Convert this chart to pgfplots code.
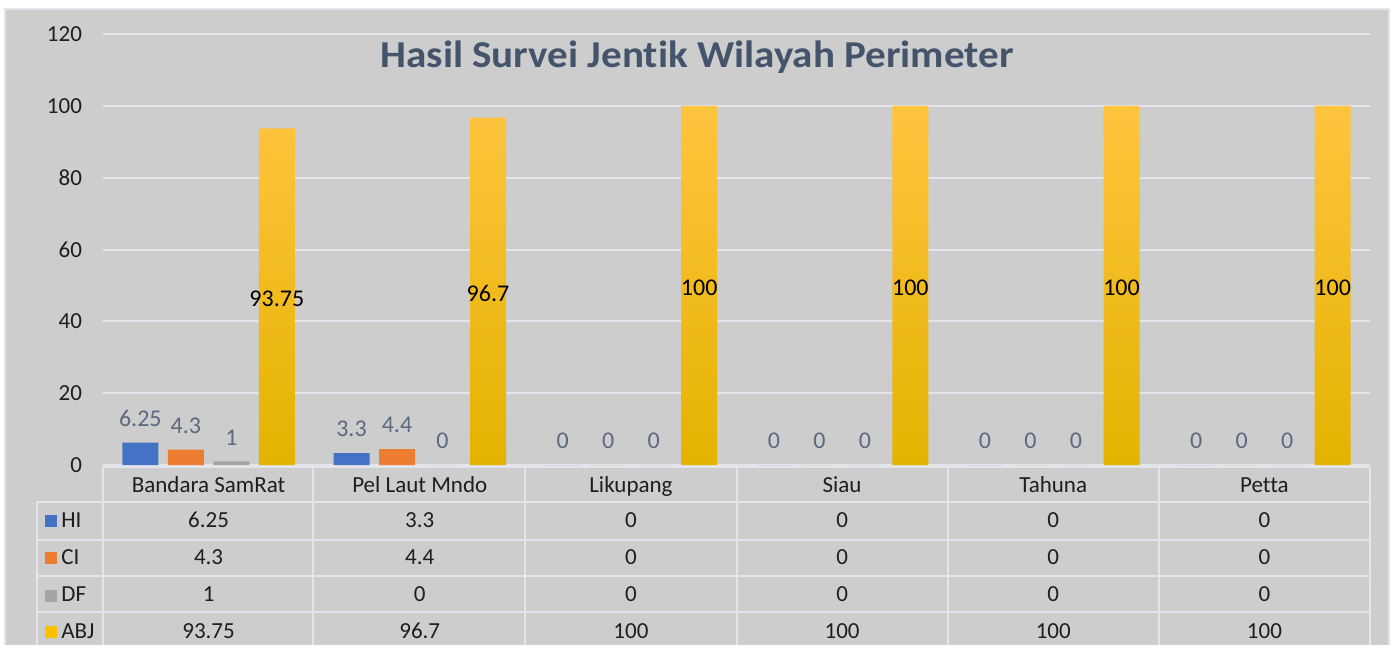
\documentclass[border=0pt]{standalone}
\usepackage{pgfplots}
\pgfplotsset{compat=1.18}
\usepackage{fontspec}
\setmainfont{Carlito}[Ligatures=NoCommon]
\definecolor{panel}{HTML}{CDCDCD}
\definecolor{gridc}{HTML}{E3E5EA}
\definecolor{hi}{HTML}{4472C4}
\definecolor{ci}{HTML}{ED7D31}
\definecolor{df}{HTML}{A5A5A5}
\definecolor{abj}{HTML}{FFC000}
\definecolor{abjtop}{HTML}{FFC43F}
\definecolor{abjbot}{HTML}{E4B300}
\definecolor{lab}{HTML}{5B6A7E}
\definecolor{titlec}{HTML}{44546A}
\definecolor{txt}{HTML}{1E1E1E}
\begin{document}
\begin{tikzpicture}[x=0.5pt,y=0.5pt]
\useasboundingbox (0,0) rectangle (1395,645);
\fill[white] (0,0) rectangle (1395,645);
\fill[panel] (5,0) rectangle (1389,636);
\draw[gridc, line width=1pt] (5,0) -- (5,636) -- (1389,636) -- (1389,0);
\begin{axis}[
  at={(51.5pt,90pt)}, anchor=south west, scale only axis,
  width=633.5pt, height=215.5pt,
  xmin=0, xmax=6, ymin=0, ymax=120,
  ybar=4.75pt, bar width=18pt,
  axis line style={draw=none},
  major tick length=0pt,
  ytick={0,20,...,120},
  ymajorgrids, grid style={gridc, line width=1pt},
  xtick={0.5,1.5,2.5,3.5,4.5,5.5},
  xticklabels={Bandara SamRat, Pel Laut Mndo, Likupang, Siau, Tahuna, Petta},
  xticklabel style={anchor=base, yshift=-13.5pt},
  yticklabel style={xshift=-7pt},
  tick label style={font=\fontsize{11.5}{13}\selectfont, text=txt},
  /pgf/number format/assume math mode=true,
  nodes near coords,
  every node near coord/.append style={font=\fontsize{12}{14}\selectfont},
  small/.style={draw=none, nodes near coords style={text=lab, anchor=south, yshift=4.5pt}},
  clip=false,
]
\addplot[small, fill=hi] coordinates {(0.5,6.25) (1.5,3.3) (2.5,0) (3.5,0) (4.5,0) (5.5,0)};
\addplot[small, fill=ci] coordinates {(0.5,4.3) (1.5,4.4) (2.5,0) (3.5,0) (4.5,0) (5.5,0)};
\addplot[small, fill=df] coordinates {(0.5,1) (1.5,0) (2.5,0) (3.5,0) (4.5,0) (5.5,0)};
\addplot[draw=none, top color=abjtop, bottom color=abjbot,
  visualization depends on={y \as \rawy},
  nodes near coords style={text=black, anchor=center, yshift={-\rawy*0.89792pt-1.25pt}}]
  coordinates {(0.5,93.75) (1.5,96.7) (2.5,100) (3.5,100) (4.5,100) (5.5,100)};
\end{axis}
\node[font=\fontsize{19}{22}\selectfont\bfseries, text=titlec, xscale=1.08] at (697,588) {Hasil Survei Jentik Wilayah Perimeter};
% table grid
\begin{scope}[gridc, line width=1pt]
\draw (103,178) -- (1370,178);
\foreach \yy in {143,105,69,33} \draw (37,\yy) -- (1370,\yy);
\draw (37,143) -- (37,0);
\foreach \xx in {103,313,525,737,948,1159,1370} \draw (\xx,178) -- (\xx,0);
\end{scope}
% legend keys
\foreach \c/\n/\b in {hi/HI/118, ci/CI/81, df/DF/43.5, abj/ABJ/7} {
  \fill[\c] (45,\b) rectangle (57,\b+12);
  \node[anchor=base west, inner sep=0pt, font=\fontsize{11.5}{13}\selectfont, text=txt] at (61,\b) {\n};
}
% table values
\foreach \b/\vals in {118/{6.25,3.3,0,0,0,0}, 81/{4.3,4.4,0,0,0,0}, 43.5/{1,0,0,0,0,0}, 7/{93.75,96.7,100,100,100,100}} {
  \foreach \v [count=\i from 0] in \vals {
    \node[anchor=base, inner sep=0pt, font=\fontsize{11.5}{13}\selectfont, text=txt] at ({103+211.17*(\i+0.5)},\b) {\v};
  }
}
\end{tikzpicture}
\end{document}
